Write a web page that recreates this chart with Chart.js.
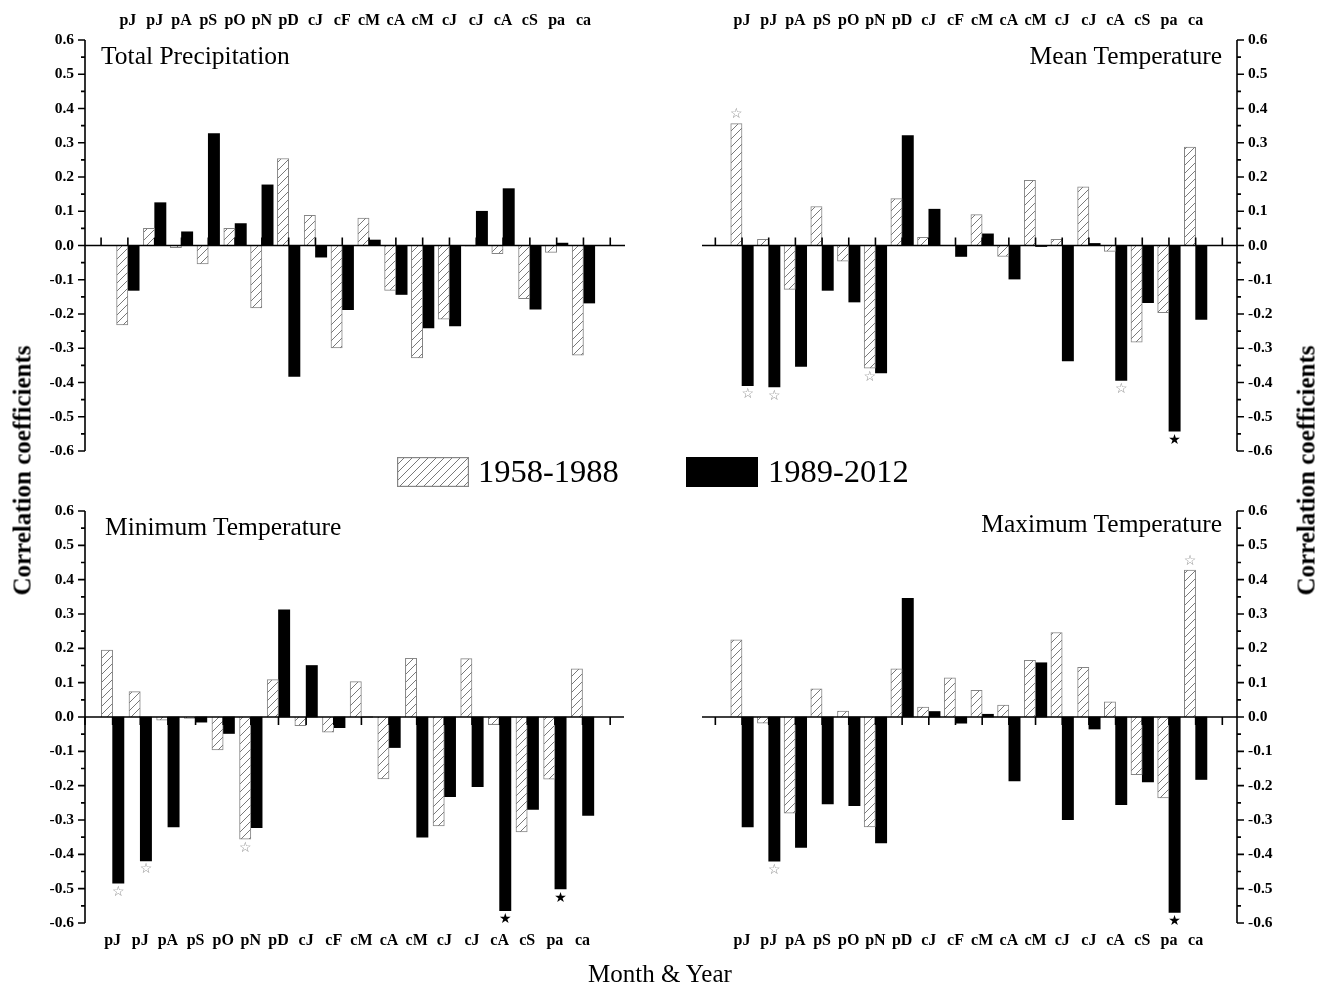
<!DOCTYPE html>
<html>
<head>
<meta charset="utf-8">
<script src="https://cdn.jsdelivr.net/npm/chart.js@4.4.1/dist/chart.umd.min.js"></script>
<style>
  html, body { margin: 0; padding: 0; background: #fff; }
  #fig { position: relative; width: 1325px; height: 986px; overflow: hidden; background: #fff;
         font-family: "Liberation Serif", "Times New Roman", serif; color: #000; }
  #fig canvas { position: absolute; }
  .txt { position: absolute; white-space: nowrap; line-height: 1; z-index: 2; }
  .ytitle { position: absolute; width: 320px; text-align: center; font-weight: bold; font-size: 25px;
            line-height: 1; transform: rotate(-90deg); z-index: 2; }
</style>
</head>
<body>
<div id="fig">
  <canvas id="pTL" width="662" height="480" style="left:0;top:0"></canvas>
  <canvas id="pTR" width="663" height="480" style="left:662px;top:0"></canvas>
  <canvas id="pBL" width="662" height="506" style="left:0;top:480px"></canvas>
  <canvas id="pBR" width="663" height="506" style="left:662px;top:480px"></canvas>

  <div class="txt" id="tTL" style="left:101px;top:43px;font-size:25.5px"></div>
  <div class="txt" id="tTR" style="right:103px;top:43px;font-size:25.5px"></div>
  <div class="txt" id="tBL" style="left:105px;top:514px;font-size:25.5px"></div>
  <div class="txt" id="tBR" style="right:103px;top:511px;font-size:25.5px"></div>

  <canvas id="swA" width="72" height="30" style="left:397px;top:457px;z-index:2"></canvas>
  <div class="txt" id="lgA" style="left:478px;top:455px;font-size:32.5px"></div>
  <canvas id="swB" width="72" height="30" style="left:686px;top:457px;z-index:2"></canvas>
  <div class="txt" id="lgB" style="left:768px;top:455px;font-size:32.5px"></div>

  <div class="ytitle" style="left:-138px;top:458px">Correlation coefficients</div>
  <div class="ytitle" style="left:1146px;top:458px">Correlation coefficients</div>
  <div class="txt" style="left:0;width:1320px;text-align:center;top:961px;font-size:25px">Month &amp; Year</div>
</div>

<script>
// Month labels along the category axis (p = previous year, c = current year)
const categories = ['pJ', 'pJ', 'pA', 'pS', 'pO', 'pN', 'pD', 'cJ', 'cF', 'cM', 'cA', 'cM', 'cJ', 'cJ', 'cA', 'cS', 'pa', 'ca'];
const yTickValues = [0.6, 0.5, 0.4, 0.3, 0.2, 0.1, 0, -0.1, -0.2, -0.3, -0.4, -0.5, -0.6];
const seriesNames = ['1958-1988', '1989-2012'];
const panelTitles = ['Total Precipitation', 'Mean Temperature', 'Minimum Temperature', 'Maximum Temperature'];

// Correlation coefficients, one value per month
const precipEarly = [-0.232, 0.05, -0.006, -0.054, 0.05, -0.182, 0.254, 0.088, -0.299, 0.08, -0.131, -0.328, -0.215, -0.002, -0.024, -0.155, -0.02, -0.32];
const precipLate  = [-0.131, 0.125, 0.04, 0.327, 0.064, 0.177, -0.382, -0.034, -0.187, 0.016, -0.143, -0.241, -0.235, 0.10, 0.166, -0.186, 0.007, -0.168];

const meanEarly = [0.356, 0.018, -0.128, 0.114, -0.046, -0.358, 0.137, 0.024, 0, 0.09, -0.032, 0.19, 0.018, 0.171, -0.017, -0.282, -0.196, 0.287];
const meanLate  = [-0.409, -0.413, -0.353, -0.131, -0.165, -0.372, 0.321, 0.106, -0.032, 0.034, -0.098, -0.003, -0.337, 0.006, -0.394, -0.167, -0.542, -0.216];

const minEarly = [0.195, 0.074, -0.009, -0.004, -0.096, -0.356, 0.109, -0.025, -0.044, 0.103, -0.18, 0.171, -0.317, 0.17, -0.022, -0.335, -0.181, 0.14];
const minLate  = [-0.484, -0.419, -0.32, -0.015, -0.048, -0.322, 0.312, 0.15, -0.031, 0, -0.089, -0.35, -0.232, -0.203, -0.564, -0.269, -0.501, -0.287];

const maxEarly = [0.225, -0.018, -0.28, 0.082, 0.017, -0.32, 0.14, 0.029, 0.114, 0.078, 0.035, 0.165, 0.246, 0.145, 0.044, -0.168, -0.236, 0.428];
const maxLate  = [-0.32, -0.42, -0.38, -0.253, -0.258, -0.367, 0.346, 0.016, -0.018, 0.008, -0.186, 0.158, -0.299, -0.035, -0.255, -0.189, -0.569, -0.182];

// Significance markers: [series index, month index, 1 = p<0.01 (filled) / 0 = p<0.05 (open)]
const precipStars = [];
const meanStars = [[0, 0, 0], [1, 0, 0], [1, 1, 0], [0, 5, 0], [1, 14, 0], [1, 16, 1]];
const minStars  = [[1, 0, 0], [1, 1, 0], [0, 5, 0], [1, 14, 1], [1, 16, 1]];
const maxStars  = [[1, 1, 0], [1, 16, 1], [0, 17, 0]];

const FONT = '"Liberation Serif", "Times New Roman", serif';

function hatchPattern(ctx) {
  const t = document.createElement('canvas');
  t.width = 8; t.height = 8;
  const g = t.getContext('2d');
  g.fillStyle = '#fff';
  g.fillRect(0, 0, 8, 8);
  g.strokeStyle = '#6a6a6a';
  g.lineWidth = 0.9;
  g.beginPath();
  g.moveTo(-1, 9); g.lineTo(9, -1);
  g.stroke();
  return ctx.createPattern(t, 'repeat');
}

// Axis lines, zero line with its tick marks, and significance stars
function framePlugin(cfg) {
  return {
    id: 'frame',
    afterDatasetsDraw(chart) {
      const { ctx, chartArea: a, scales: { x, y } } = chart;
      ctx.save();
      ctx.strokeStyle = '#000';
      ctx.lineWidth = 1.6;
      const ax = cfg.axisSide === 'left' ? a.left : a.right;
      const dir = cfg.axisSide === 'left' ? -1 : 1;
      ctx.beginPath();
      ctx.moveTo(ax, y.getPixelForValue(0.6));
      ctx.lineTo(ax, y.getPixelForValue(-0.6));
      yTickValues.forEach((v, k) => {
        const py = y.getPixelForValue(v);
        ctx.moveTo(ax, py); ctx.lineTo(ax + dir * 7, py);
        if (k < yTickValues.length - 1) {
          const pm = y.getPixelForValue(v - 0.05);
          ctx.moveTo(ax, pm); ctx.lineTo(ax + dir * 4, pm);
        }
      });
      ctx.stroke();

      const y0 = y.getPixelForValue(0);
      const tdir = cfg.labelSide === 'top' ? -1 : 1;
      ctx.beginPath();
      ctx.moveTo(a.left, y0); ctx.lineTo(a.right, y0);
      for (let k = 0; k <= categories.length + 1; k++) {
        const px = x.getPixelForValue(k);
        if (px < a.left - 0.5 || px > a.right + 0.5) continue;
        ctx.moveTo(px, y0); ctx.lineTo(px, y0 + tdir * 8);
      }
      ctx.stroke();

      ctx.font = '14px "DejaVu Sans"';
      ctx.textAlign = 'center';
      ctx.textBaseline = 'middle';
      cfg.stars.forEach(([s, i, filled]) => {
        const el = chart.getDatasetMeta(s).data[i];
        const v = chart.data.datasets[s].data[i].y;
        const sy = v < 0 ? el.y + 9 : el.y - 9;
        ctx.fillStyle = filled ? '#000' : '#8a8a8a';
        ctx.fillText(filled ? '\u2605' : '\u2606', el.x, sy);
      });
      ctx.restore();
    }
  };
}

function panel(id, cfg) {
  const ctx = document.getElementById(id).getContext('2d');
  const fill = hatchPattern(ctx);
  return new Chart(ctx, {
    type: 'bar',
    data: {
      datasets: [
        { label: seriesNames[0], data: cfg.early.map((v, i) => ({ x: i + 1, y: v })),
          backgroundColor: fill, borderColor: '#858585', borderWidth: 1, barThickness: 11.3 },
        { label: seriesNames[1], data: cfg.late.map((v, i) => ({ x: i + 1, y: v })),
          backgroundColor: '#000', borderColor: '#000', borderWidth: 0, barThickness: 11.3 }
      ]
    },
    options: {
      responsive: false,
      animation: false,
      events: [],
      layout: { padding: cfg.pad },
      plugins: { legend: { display: false }, tooltip: { enabled: false } },
      scales: {
        x: {
          type: 'linear', position: cfg.labelSide, min: cfg.xMin, max: cfg.xMax, offset: false,
          grid: { display: false, drawTicks: false, offset: false }, border: { display: false },
          afterBuildTicks: s => { s.ticks = categories.map((c, i) => ({ value: i + 1 })); },
          afterFit: s => { s.height = cfg.labelBand; },
          ticks: {
            autoSkip: false, maxRotation: 0, minRotation: 0, padding: cfg.labelPad, color: '#000',
            font: { family: FONT, size: 16, weight: 'bold' },
            callback: v => categories[Math.round(v) - 1] || ''
          }
        },
        y: {
          type: 'linear', position: cfg.axisSide, min: -0.6, max: 0.6,
          grid: { display: false, drawTicks: false }, border: { display: false },
          afterBuildTicks: s => { s.ticks = yTickValues.map(v => ({ value: v })); },
          afterFit: s => { s.width = cfg.axisBand; },
          ticks: {
            autoSkip: false, padding: 11, color: '#000',
            font: { family: FONT, size: 15.5, weight: 'bold' },
            callback: v => Number(v).toFixed(1)
          }
        }
      }
    },
    plugins: [framePlugin(cfg)]
  });
}

panel('pTL', { early: precipEarly, late: precipLate, stars: precipStars,
  pad: { left: 0, right: 37, top: 0, bottom: 29 }, xMin: -0.6, xMax: 19.55,
  labelSide: 'top', labelBand: 40, labelPad: 10, axisSide: 'left', axisBand: 85 });
panel('pTR', { early: meanEarly, late: meanLate, stars: meanStars,
  pad: { left: 40, right: 0, top: 0, bottom: 29 }, xMin: -0.5, xMax: 19.55,
  labelSide: 'top', labelBand: 40, labelPad: 10, axisSide: 'right', axisBand: 88 });
panel('pBL', { early: minEarly, late: minLate, stars: minStars,
  pad: { left: 0, right: 38, top: 31, bottom: 0 }, xMin: 0, xMax: 19.5,
  labelSide: 'bottom', labelBand: 63, labelPad: 8, axisSide: 'left', axisBand: 85 });
panel('pBR', { early: maxEarly, late: maxLate, stars: maxStars,
  pad: { left: 40, right: 0, top: 31, bottom: 0 }, xMin: -0.5, xMax: 19.55,
  labelSide: 'bottom', labelBand: 63, labelPad: 8, axisSide: 'right', axisBand: 88 });

// Panel titles and shared legend
['tTL', 'tTR', 'tBL', 'tBR'].forEach((id, k) => { document.getElementById(id).textContent = panelTitles[k]; });
document.getElementById('lgA').textContent = seriesNames[0];
document.getElementById('lgB').textContent = seriesNames[1];

(function swatches() {
  const a = document.getElementById('swA').getContext('2d');
  a.fillStyle = hatchPattern(a);
  a.fillRect(0, 0, 72, 30);
  a.strokeStyle = '#858585';
  a.lineWidth = 1.2;
  a.strokeRect(0.6, 0.6, 70.8, 28.8);
  const b = document.getElementById('swB').getContext('2d');
  b.fillStyle = '#000';
  b.fillRect(0, 0, 72, 30);
})();
</script>
</body>
</html>
